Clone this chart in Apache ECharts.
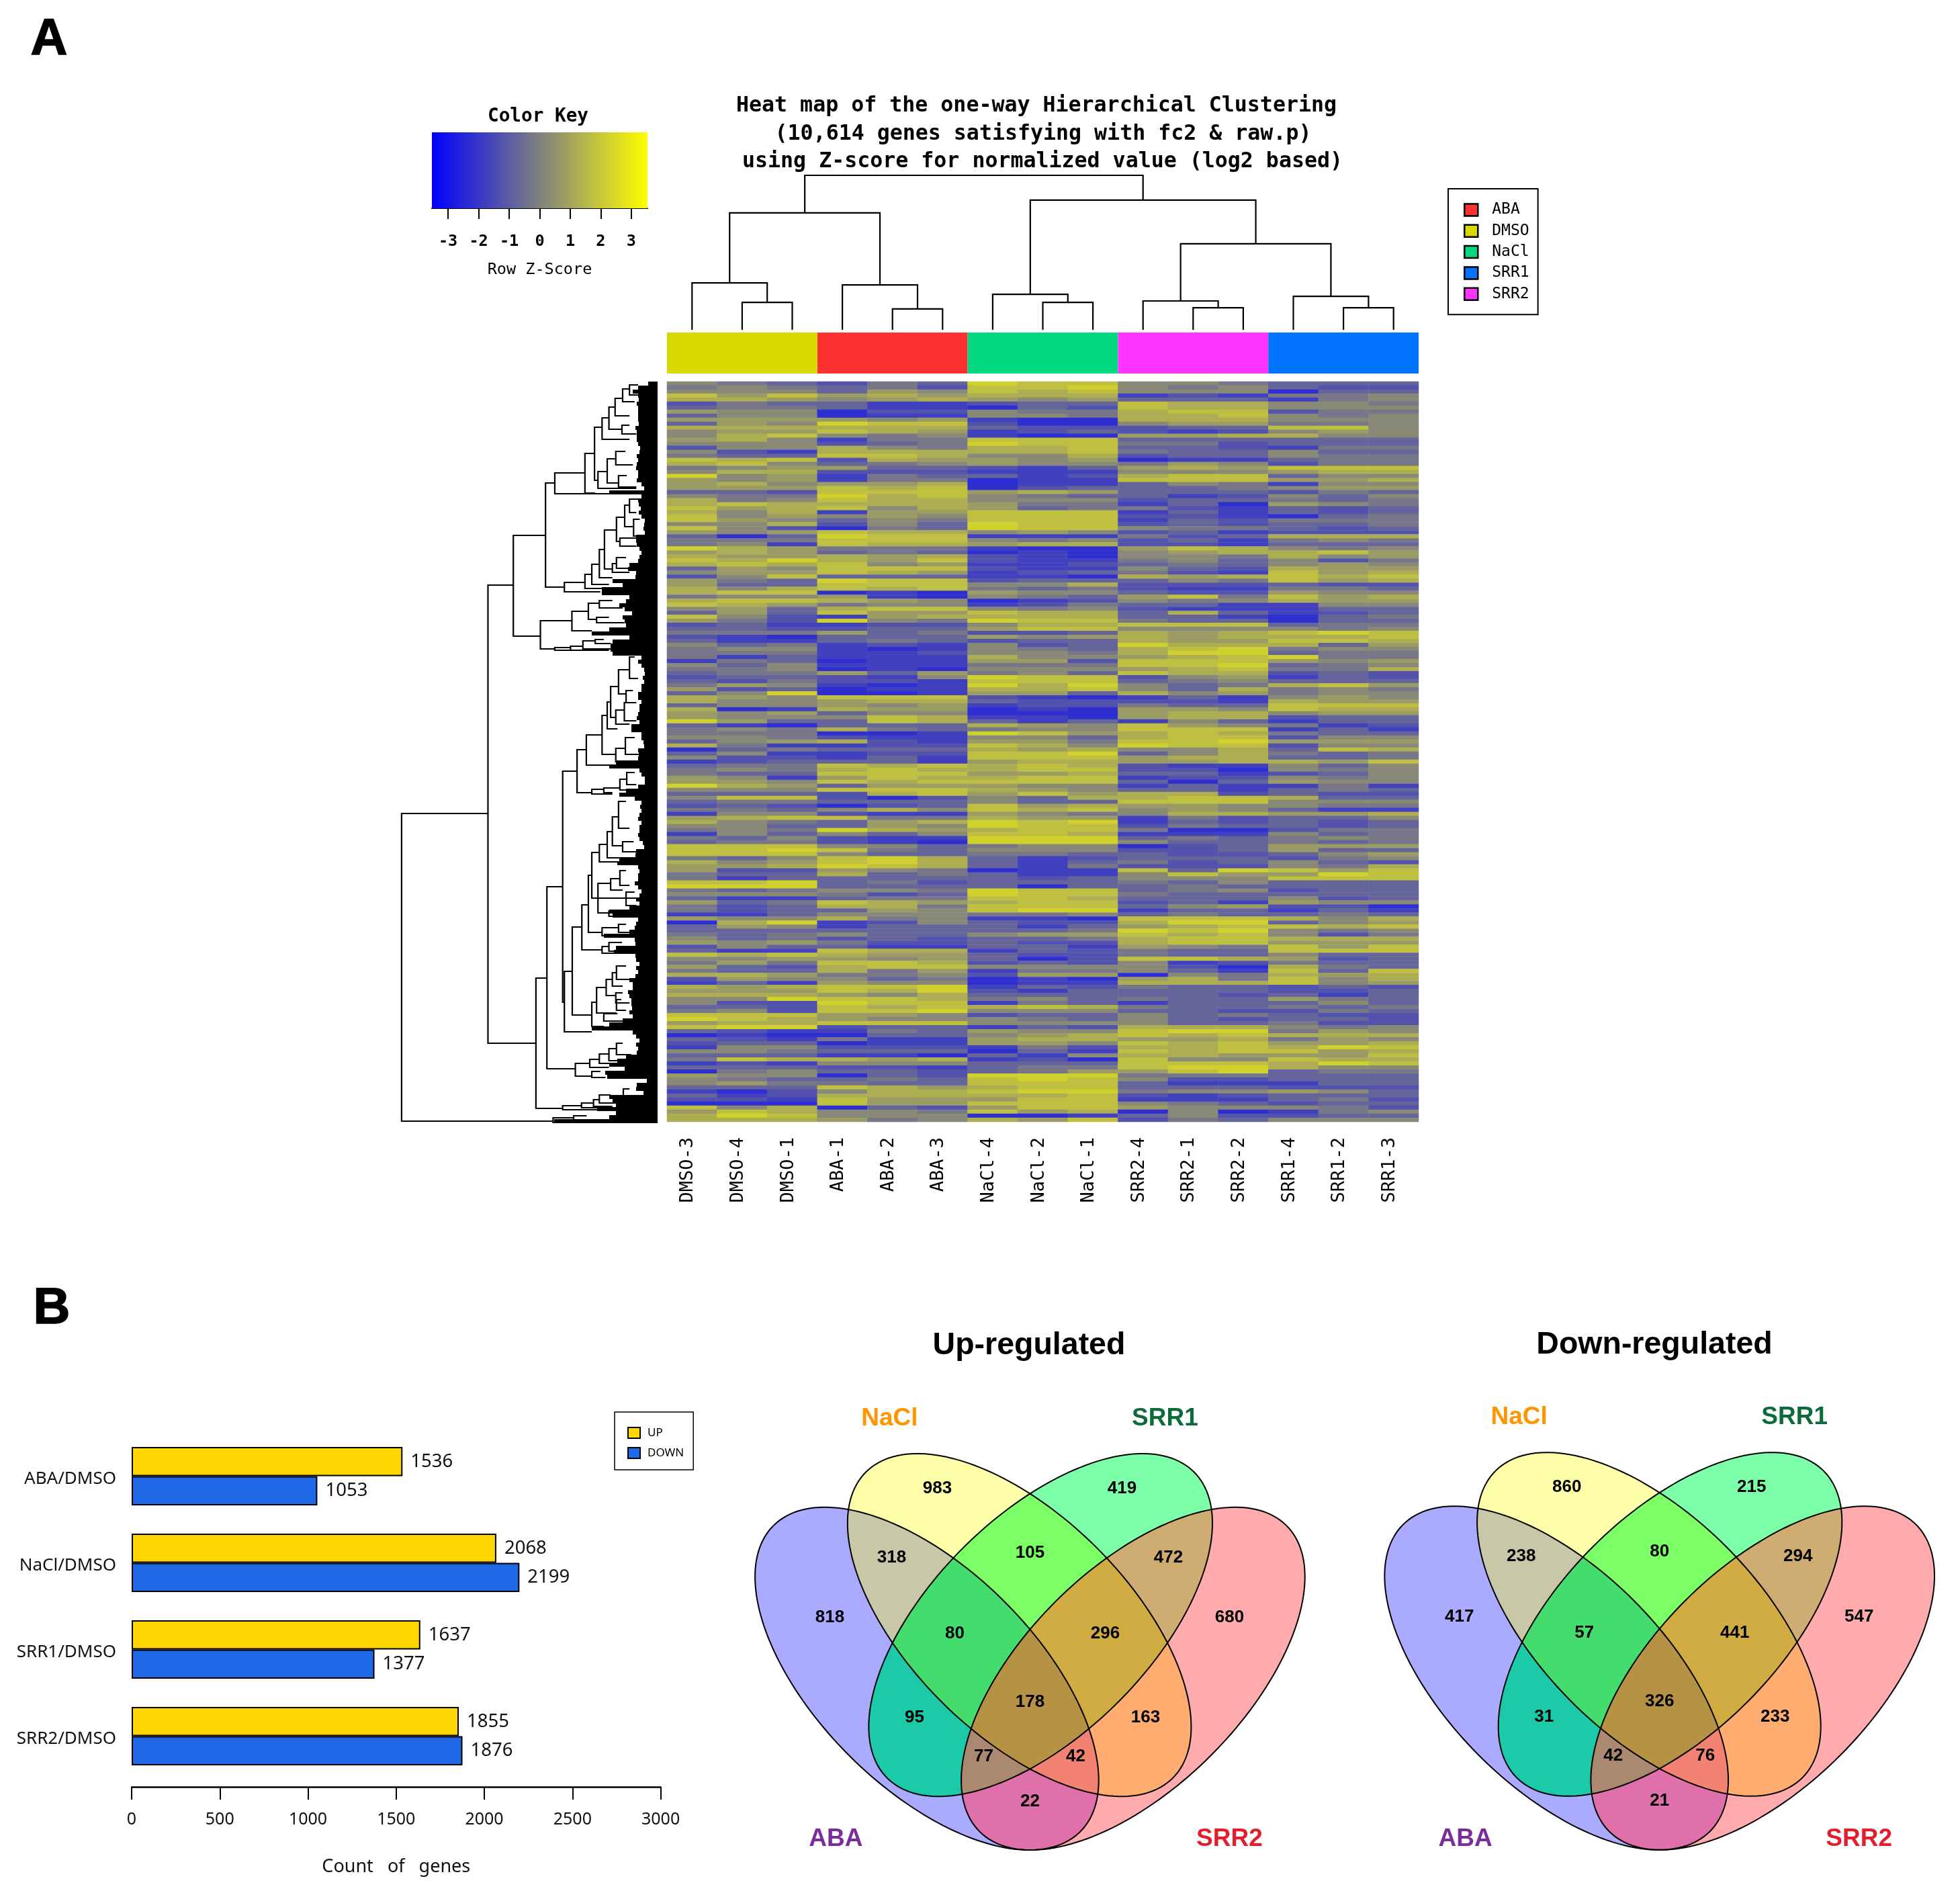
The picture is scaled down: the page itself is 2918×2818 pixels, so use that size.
<!DOCTYPE html>
<html><head><meta charset="utf-8">
<style>html,body{margin:0;padding:0;background:#fff}#c{width:2918px;height:2818px}</style>
<script src="https://cdn.jsdelivr.net/npm/echarts@6/dist/echarts.min.js"></script>
</head><body><div id="c"></div>
<script>
// ---------- heat map ----------
const sampleLabels=['DMSO-3','DMSO-4','DMSO-1','ABA-1','ABA-2','ABA-3','NaCl-4','NaCl-2','NaCl-1','SRR2-4','SRR2-1','SRR2-2','SRR1-4','SRR1-2','SRR1-3'];
const sidebarOrder=['DMSO','ABA','NaCl','SRR2','SRR1'];
const groupNames=['ABA','DMSO','NaCl','SRR1','SRR2'];
// one string per row band, one digit per sample: 0 = deepest blue ... 9 = brightest yellow
const heatRowsA=['543243988554333','454342889545322','555365878555033','868676777121445','776567656333145','243311233877554','344311032877555','655022544788244','355011554778545','666656100777555','365988200566445','777777322233885','566876123212565','578545100667755','675144888333333','555234988442333','255754778332144','521777778433533','433887557233544','878276656011344','785345655465244','456633213676888','577222111555677','956143312788355','656144011888667','675667011354155','666878023334566','332888676333243','544978543312535','745877555233434','787777644130654','867857634421323','757166888131323','856565888221034','865354888132444','557253988232334','852043988544323','656877565231222','303988111423777','444888545231454','451877677221333','976444100687545','676343010567786','766767210554756','879768211453524','787856112343565'];
const heatRowsB=['365888211532766','566876123421867','258333110767878','643988233354867','633888557222322','757878434211443','788010655322655','455610543684867','788765012545766','876455124331155','563788545211133','363866877373123','852167777331034','642954988433033','231122577888344','332233688555545','444634223767898','210333656767778','311343233766887','534121523977736','455101543789455','444112554799344','413111755678944','143011662888656','535111444889345','445010555678447','344636453877232','233215988256132','324221888345333','465101979534786','623011778537454','359001663756455','765888210131565','755677322221766','355656122433888','701766010665877','656355000677566','655587110677233','963387313153133','310333765865412','454743455888131','444001986787433','554211553788255','356721664889666','741122875988255','034333767557387'];
const heatRowsC=['351122889357434','522131888677334','123331677667768','344878787211535','454787788220545','433888667331235','651687788122545','665878888303655','976366655131141','555888765331343','333278686772322','588202537788733','344333533888555','232023867665544','443575878565311','155211654577667','678844766142335','754367989132323','553365988243323','454976788400244','153535887111534','435211999343454','344210999533434','888553455023666','889843555223633','888533443322356','435897312333245','756897313423532','667987314222547','622654011839868','433734311586698','413333323555888','889342333435333','999333303343333','434554988345233','555423988433333','311344887333523','634876788231655','423774888356220','423365899133131','113555445343343','655745110888757','079125322799356','365133313678878','333333334989545','434533566878524'];
const heatRowsD=['534232334788777','656422322788666','253311331654868','311877132433888','878766322433533','556656302887623','464887232512433','632788555520743','433746144531838','776445266054767','265534010674857','131655011777856','767889132433232','666879213333223','777657333332313','559887453433643','522988143133353','332878787433434','452889555332243','888665233534322','987655543532332','677888555533422','899233132777545','321143655899465','010033567878777','321411677667465','233011665878667','155222142778798','554333031878867','333110315776668','487767120855877','121555333888798','333221344899755','045332346689344','655032999444333','543343898522333','564433888311133','333876788333222','102577899455653','312777778212333','221866688111342','000866888543233','857032688655542','687554867050145','798555001352233','777645768243555'];
// ---------- sample dendrogram (R hclust style: negative = leaf, positive = earlier merge) ----------
const colMerge=[[-2,-3,17.8],[-1,1,30.4],[-5,-6,13.5],[-4,3,29.1],[2,4,75.7],[-8,-9,17.8],[-7,6,23],[-11,-12,14.3],[-10,8,18.7],[-14,-15,14.3],[-13,10,21.7],[9,11,55.7],[7,12,84],[5,13,100]];
// ---------- gene dendrogram: [link depth, top row pos, bottom row pos, top child depth, bottom child depth] ----------
const geneLinks=[[35,643,1101,287,477],[287,303,985,361,427],[361,229,379,455,440],[455,151,306,482,510],[482,136,167,570,735],[570,107,166,598,600],[598,68,147,620,608],[620,54,86,640,700],[640,38,71,658,678],[658,25,51,680,700],[680,11,30,700,715],[700,5,20,725,730],[678,65,78,700,720],[608,134,159,635,720],[635,115,151,660,668],[660,104,124,688,710],[668,140,157,692,720],[510,299,313,570,615],[570,287,308,590,640],[590,272,302,612,640],[612,250,292,627,650],[627,221,279,662,650],[662,202,238,686,672],[686,184,216,700,710],[672,233,245,720,720],[650,271,284,662,700],[700,175,195,725,720],[712,205,230,730,735],[662,262,278,690,710],[440,356,398,532,482],[532,342,371,580,590],[580,330,354,612,604],[612,326,337,650,680],[604,351,359,640,685],[482,396,400,528,564],[528,394,400,564,640],[564,386,398,600,650],[600,384,390,625,645],[427,888,1082,459,505],[459,752,1023,505,542],[505,580,924,547,510],[547,548,612,574,590],[574,526,571,620,660],[620,497,555,635,660],[635,477,517,645,665],[645,454,500,668,660],[668,429,465,700,690],[700,410,442,715,725],[690,460,478,710,720],[660,489,510,685,700],[685,478,505,710,720],[660,546,566,688,720],[688,530,555,715,730],[590,607,614,625,650],[625,605,612,672,650],[672,592,608,692,710],[692,582,600,715,720],[510,878,968,533,590],[533,812,943,561,590],[561,779,846,580,620],[580,735,820,590,620],[590,701,769,612,720],[612,689,715,635,665],[635,670,709,650,680],[650,648,691,668,680],[668,625,665,690,700],[680,685,700,712,720],[608,747,791,645,640],[645,740,757,672,680],[672,728,750,690,700],[640,788,796,660,690],[690,760,780,715,720],[620,813,825,668,700],[668,808,820,690,710],[620,841,851,640,660],[640,835,848,678,690],[590,924,960,604,625],[604,902,940,632,662],[632,890,914,650,660],[650,880,900,662,680],[662,870,890,690,700],[660,910,925,680,700],[662,920,936,676,690],[625,941,952,665,690],[542,1015,1034,584,590],[584,1009,1021,612,640],[612,1001,1015,640,665],[640,993,1011,662,695],[662,985,1002,680,705],[590,1027,1036,615,630],[505,1078,1084,560,615],[560,1074,1081,595,650],[595,1069,1079,612,650],[612,1062,1074,645,680],[682,1053,1063,700,720],[477,1096,1103,537,640],[537,1093,1099,575,640]];
// depth at which each row band of leaves turns solid black
const leafEdge=[755,725,710,725,728,722,725,725,725,725,728,718,722,722,722,725,732,730,722,725,722,720,725,725,722,735,742,640,735,725,728,733,728,735,745,742,740,745,720,720,722,730,735,730,725,700,695,720,718,650,680,620,620,700,690,670,685,708,680,685,690,640,590,700,650,645,645,650,735,725,735,742,745,738,742,735,735,725,725,735,730,730,725,722,730,705,705,735,735,740,742,725,728,725,660,640,730,735,745,745,725,690,670,715,735,732,735,730,725,735,730,730,725,730,738,742,720,718,670,665,725,730,725,725,715,725,735,730,720,730,700,640,650,725,720,715,700,625,715,717,660,655,718,720,730,720,725,718,700,710,710,695,700,705,705,708,700,710,680,640,590,710,720,730,720,725,722,690,665,640,685,630,635,750,722,720,740,640,650,660,605,660,640,480];
// ---------- bars ----------
const barCategories=['ABA/DMSO','NaCl/DMSO','SRR1/DMSO','SRR2/DMSO'];
const upCounts=[1536,2068,1637,1855];
const downCounts=[1053,2199,1377,1876];
// ---------- venn ----------
const vennRegions=['A','N','S','R','AN','NS','SR','AS','NR','AR','ANS','NSR','ASR','ANR','ANSR'];
const vennUp=[818,983,419,680,318,105,472,95,163,22,80,296,77,42,178];
const vennDown=[417,860,215,547,238,80,294,31,233,21,57,441,42,76,326];
const vennSets=['ABA','NaCl','SRR1','SRR2'];

// ---------- styling and layout ----------
const mono='"DejaVu Sans Mono"', sans='"Liberation Sans"', noto='"Noto Sans"';
const groupColors={ABA:'#FF3030',DMSO:'#D9D900',NaCl:'#00D980',SRR1:'#0074FF',SRR2:'#FF33FF'};
const regionColors={A:'#AAAAFF',N:'#FFFFAA',S:'#7CFFA8',R:'#FFAAAD',AN:'#C8C8A8',NS:'#7CFF66',SR:'#CFAC72',AS:'#1CCAAA',NR:'#FFAC70',AR:'#E070AA',ANS:'#45DC6E',NSR:'#D0AC42',ASR:'#AB8870',ANR:'#F28272',ANSR:'#B59244'};
const regionPos={A:[-298,-92],N:[-138,-285],S:[137,-285],R:[297,-92],AN:[-206,-182],NS:[0,-189],SR:[206,-182],AS:[-172,57],NR:[172,57],AR:[0,182],ANS:[-112,-68],NSR:[112,-68],ASR:[-69,115],ANR:[68,115],ANSR:[0,34]};
const setShape={A:[-153.5,0,45],N:[-15.8,-80,45],S:[15.8,-80,-45],R:[153.5,0,-45]};
const setLabelPos=[[-289,240,'#7B2C9C'],[-209,-388,'#FF9500'],[201,-388,'#0B6B3A'],[297,240,'#E21E2D']];
const ELL_A=323, ELL_B=163;

function ellipse(key){
  const [cx,cy,t]=setShape[key], r=t*Math.PI/180, pts=[];
  for(let i=0;i<180;i++){const a=i/180*2*Math.PI, u=ELL_A*Math.cos(a), v=ELL_B*Math.sin(a);
    pts.push([cx+u*Math.cos(r)-v*Math.sin(r), cy+u*Math.sin(r)+v*Math.cos(r)]);}
  return pts;
}
function clip(subject,clipper){
  let out=subject;
  for(let i=0;i<clipper.length;i++){
    const a=clipper[i], b=clipper[(i+1)%clipper.length], inp=out; out=[];
    const side=p=>(b[0]-a[0])*(p[1]-a[1])-(b[1]-a[1])*(p[0]-a[0]);
    for(let j=0;j<inp.length;j++){
      const p=inp[j], q=inp[(j+1)%inp.length], sp=side(p), sq=side(q);
      if(sp>=0) out.push(p);
      if((sp>=0)!==(sq>=0)){const t=sp/(sp-sq); out.push([p[0]+t*(q[0]-p[0]),p[1]+t*(q[1]-p[1])]);}
    }
    if(!out.length) break;
  }
  return out;
}
function regionPolygon(name){
  let poly=ellipse(name[0]);
  for(const k of name.slice(1)) poly=clip(poly,ellipse(k));
  return poly;
}
const polyCache=Object.fromEntries(vennRegions.map(r=>[r,regionPolygon(r)]));

function vennSeries(xi,counts){
  const common={coordinateSystem:'cartesian2d',xAxisIndex:xi,yAxisIndex:xi,silent:true,clip:false};
  return [
    {...common,type:'custom',data:vennRegions.map((r,i)=>[i]),
      renderItem(p,api){const r=vennRegions[api.value(0)];
        return {type:'polygon',shape:{points:polyCache[r].map(q=>api.coord(q))},style:{fill:regionColors[r],stroke:regionColors[r],lineWidth:0.5}};}},
    {...common,type:'custom',data:['A','N','S','R'].map((r,i)=>[i]),
      renderItem(p,api){const r=['A','N','S','R'][api.value(0)];
        return {type:'polygon',shape:{points:ellipse(r).map(q=>api.coord(q))},style:{fill:'none',stroke:'#000',lineWidth:2}};}},
    {...common,type:'scatter',symbolSize:1,itemStyle:{color:'transparent',opacity:1},
      data:vennRegions.map((r,i)=>[regionPos[r][0],regionPos[r][1]+1,counts[i]]),
      label:{show:true,position:'inside',opacity:1,formatter:p=>String(p.value[2]),fontFamily:sans,fontWeight:'bold',fontSize:26,color:'#000'}},
    {...common,type:'scatter',symbolSize:1,itemStyle:{color:'transparent',opacity:1},
      data:vennSets.map((s,i)=>({value:[setLabelPos[i][0],setLabelPos[i][1],s],label:{color:setLabelPos[i][2]}})),
      label:{show:true,position:'inside',opacity:1,formatter:p=>p.value[2],fontFamily:sans,fontWeight:'bold',fontSize:37}}
  ];
}

const heatRows=[...heatRowsA,...heatRowsB,...heatRowsC,...heatRowsD];
const zOf=d=>(d-4.5)*0.5;
const heatData=[];
heatRows.forEach((row,y)=>{for(let x=0;x<row.length;x++) heatData.push([x,y,zOf(+row[x])]);});

// top dendrogram geometry from the merge table
const colNodes=[], colLinks=[];
const nodeOf=i=>i<0?{x:-i-0.5,h:0}:colNodes[i-1];
colMerge.forEach(([a,b,h])=>{const L=nodeOf(a),R=nodeOf(b);
  colLinks.push([L.x,R.x,h,L.h,R.h]); colNodes.push({x:(L.x+R.x)/2,h});});

const hide={show:false};
const series=[];
// 0 heatmap
series.push({type:'heatmap',xAxisIndex:0,yAxisIndex:0,data:heatData,progressive:0,silent:true,itemStyle:{borderWidth:0}});
// sidebar, one series per group so the legend is the library's own
groupNames.forEach(g=>series.push({type:'bar',name:g,xAxisIndex:1,yAxisIndex:1,barWidth:'100%',barGap:'-100%',silent:true,
  itemStyle:{color:groupColors[g]},data:sidebarOrder.map(s=>s===g?1:null)}));
// top dendrogram
series.push({type:'custom',xAxisIndex:2,yAxisIndex:2,coordinateSystem:'cartesian2d',silent:true,clip:false,data:colLinks,
  renderItem(p,api){const l=api.value(0),r=api.value(1),h=api.value(2),hl=api.value(3),hr=api.value(4);
    return {type:'polyline',shape:{points:[api.coord([l,hl]),api.coord([l,h]),api.coord([r,h]),api.coord([r,hr])]},style:{fill:'none',stroke:'#000',lineWidth:2.2}};}});
// black leaves
series.push({type:'custom',xAxisIndex:3,yAxisIndex:3,coordinateSystem:'cartesian2d',silent:true,clip:false,data:leafEdge.map((e,k)=>[e,k*6]),
  renderItem(p,api){const a=api.coord([api.value(0),api.value(1)]),b=api.coord([782,api.value(1)+6]);
    const x=Math.round(a[0]),y=Math.round(a[1]);
    return {type:'rect',shape:{x,y,width:Math.round(b[0])-x,height:Math.round(b[1])-y},style:{fill:'#000'}};}});
// gene dendrogram
series.push({type:'custom',xAxisIndex:3,yAxisIndex:3,coordinateSystem:'cartesian2d',silent:true,clip:false,data:geneLinks,
  renderItem(p,api){const x=api.value(0),t=api.value(1),b=api.value(2),xt=api.value(3),xb=api.value(4);
    return {type:'polyline',shape:{points:[api.coord([xt,t]),api.coord([x,t]),api.coord([x,b]),api.coord([xb,b])]},style:{fill:'none',stroke:'#000',lineWidth:2.2}};}});
// colour key
series.push({type:'custom',xAxisIndex:4,yAxisIndex:4,coordinateSystem:'cartesian2d',silent:true,clip:false,data:[[-3.53,3.53]],
  renderItem(p,api){const a=api.coord([api.value(0),1]),b=api.coord([api.value(1),0]);
    return {type:'rect',shape:{x:a[0],y:a[1],width:b[0]-a[0],height:b[1]-a[1]},
      style:{fill:new echarts.graphic.LinearGradient(0,0,1,0,[{offset:0,color:'#0000FF'},{offset:.5,color:'#808080'},{offset:1,color:'#FFFF00'}])}};}});
// bars
const barLabel={show:true,position:'right',distance:12,fontFamily:noto,fontSize:27.5,color:'#111'};
series.push({type:'bar',name:'UP',xAxisIndex:5,yAxisIndex:5,data:upCounts,barWidth:43.5,barGap:0,silent:true,itemStyle:{color:'#FFD700',borderColor:'#000',borderWidth:2},label:barLabel});
series.push({type:'bar',name:'DOWN',xAxisIndex:5,yAxisIndex:5,data:downCounts,barWidth:43.5,barGap:0,silent:true,itemStyle:{color:'#1F68E6',borderColor:'#000',borderWidth:2},label:barLabel});
// venns
series.push(...vennSeries(6,vennUp),...vennSeries(7,vennDown));

const VENN_UP={cx:1533.4,cy:2500}, VENN_DOWN={cx:2470.7,cy:2498};
const vennGrid=v=>({left:v.cx-440,top:v.cy-420,width:880,height:740});
const vennX=i=>({type:'value',gridIndex:i,min:-440,max:440,show:false});
const vennY=i=>({type:'value',gridIndex:i,min:-420,max:320,inverse:true,show:false});
const keyTicks=[-3,-2,-1,0,1,2,3];

const txt=(text,x,y,font,extra)=>({type:'text',x,y,silent:true,style:{text,font,fill:'#000',textAlign:'center',textVerticalAlign:'middle',...extra}});
const heavy={stroke:'#000',lineWidth:1.5};

const option={
  animation:false,backgroundColor:'#fff',
  grid:[
    {left:993,top:568,width:1119,height:1102},
    {left:993,top:495,width:1119,height:61},
    {left:993,top:261,width:1119,height:230},
    {left:597.9,top:568,width:381.1,height:1104},
    {left:643,top:197,width:321,height:113},
    {left:196,top:2133,width:787.6,height:516},
    vennGrid(VENN_UP),vennGrid(VENN_DOWN)
  ],
  xAxis:[
    {type:'category',gridIndex:0,data:sampleLabels,axisLine:hide,axisTick:hide,splitLine:hide,
      axisLabel:{rotate:90,interval:0,margin:23,fontFamily:mono,fontSize:27,color:'#000',verticalAlign:'bottom',lineHeight:12}},
    {type:'category',gridIndex:1,data:sidebarOrder,show:false},
    {type:'value',gridIndex:2,min:0,max:15,show:false},
    {type:'value',gridIndex:3,min:35,max:782,show:false},
    {type:'value',gridIndex:4,min:-3.53,max:3.53,splitLine:hide,
      axisLine:{show:true,onZero:false,lineStyle:{color:'#000',width:2}},
      axisTick:{show:true,length:16,customValues:keyTicks,lineStyle:{color:'#000',width:2}},
      axisLabel:{show:true,customValues:keyTicks,margin:38,fontFamily:mono,fontSize:23.5,color:'#000',fontWeight:'bold',hideOverlap:false,showMinLabel:true,showMaxLabel:true},
      name:'Row Z-Score',nameLocation:'middle',nameGap:80,nameTextStyle:{fontFamily:mono,fontSize:23.5,color:'#000'}},
    {type:'value',gridIndex:5,min:0,max:3000,interval:500,offset:11,splitLine:hide,
      axisLine:{show:true,onZero:false,lineStyle:{color:'#000',width:2.5}},
      axisTick:{show:true,length:19,lineStyle:{color:'#000',width:2}},
      axisLabel:{margin:36,fontFamily:noto,fontSize:25,color:'#111',formatter:v=>String(v)},
      name:'Count   of   genes',nameLocation:'middle',nameGap:106,nameTextStyle:{fontFamily:noto,fontSize:27,color:'#111'}},
    vennX(6),vennX(7)
  ],
  yAxis:[
    {type:'category',gridIndex:0,data:heatRows.map((r,i)=>i),inverse:true,show:false},
    {type:'value',gridIndex:1,min:0,max:1,show:false},
    {type:'value',gridIndex:2,min:0,max:100,show:false},
    {type:'value',gridIndex:3,min:0,max:1104,inverse:true,show:false},
    {type:'value',gridIndex:4,min:0,max:1,show:false},
    {type:'category',gridIndex:5,data:barCategories,inverse:true,axisLine:hide,axisTick:hide,
      axisLabel:{margin:23,fontFamily:noto,fontSize:26,color:'#111',verticalAlign:'top',lineHeight:8}},
    vennY(6),vennY(7)
  ],
  visualMap:[{show:false,type:'continuous',seriesIndex:0,min:-3.53,max:3.53,inRange:{color:['#0000FF','#808080','#FFFF00']}}],
  legend:[
    {data:groupNames,orient:'vertical',left:2156,top:281,padding:[20,13,19,23],itemWidth:20,itemHeight:18,itemGap:8.3,
      icon:'rect',borderColor:'#000',borderWidth:2,selectedMode:false,
      itemStyle:{borderColor:'#000',borderWidth:2.5},
      textStyle:{fontFamily:mono,fontSize:23,color:'#000',padding:[0,0,0,16]}},
    {data:['UP','DOWN'],orient:'vertical',left:915,top:2102,padding:[22,14,16,19],itemWidth:18,itemHeight:16,itemGap:12,
      icon:'rect',borderColor:'#000',borderWidth:1.5,selectedMode:false,
      itemStyle:{borderColor:'#000',borderWidth:2},
      textStyle:{fontFamily:noto,fontSize:17,color:'#000',padding:[0,0,0,6]}}
  ],
  series,
  graphic:[
    txt('A',73,60,`900 76px ${sans}`,heavy),
    txt('B',77,1949,`900 76px ${sans}`,heavy),
    txt('Heat map of the one-way Hierarchical Clustering',1543,158,`bold 31.6px ${mono}`),
    txt('(10,614 genes satisfying with fc2 & raw.p)',1553,200,`bold 31.6px ${mono}`),
    txt('using Z-score for normalized value (log2 based)',1552,241,`bold 31.6px ${mono}`),
    txt('Color Key',801,174,`bold 27.7px ${mono}`),
    txt('Up-regulated',1532,2003,`bold 46.5px ${sans}`),
    txt('Down-regulated',2463,2002,`bold 46.5px ${sans}`)
  ]
};
echarts.init(document.getElementById('c'),null,{renderer:'canvas',width:2918,height:2818}).setOption(option);
</script></body></html>
